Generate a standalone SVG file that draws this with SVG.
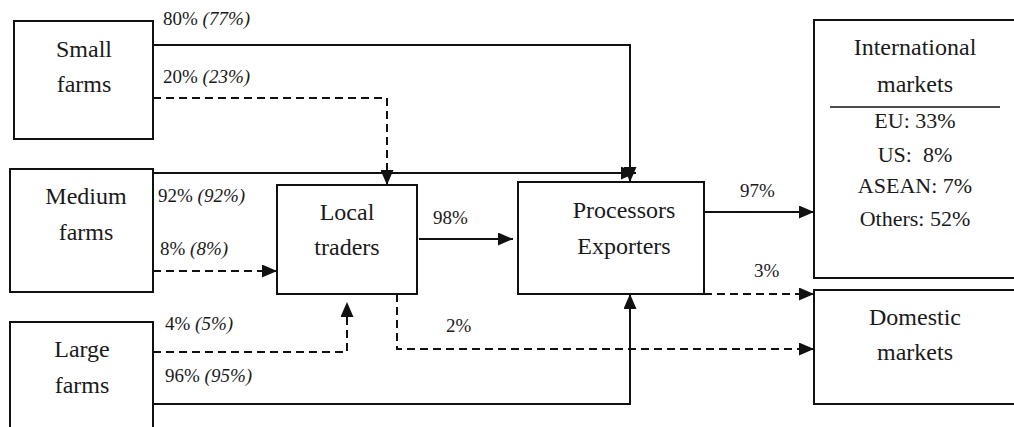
<svg xmlns="http://www.w3.org/2000/svg" width="1014" height="427" viewBox="0 0 1014 427">
<style>
.box{fill:#fff;stroke:#111;stroke-width:2}
text{font-family:"Liberation Serif","Tinos","Times New Roman","DejaVu Serif",serif;fill:#1a1a1a}
.lbl{font-size:24px;text-anchor:middle}
.sub{font-size:22px;text-anchor:middle}
.pct{font-size:19px}
.it{font-style:italic}
.solid{fill:none;stroke:#111;stroke-width:2;marker-end:url(#arr)}
.dash{fill:none;stroke:#111;stroke-width:2;stroke-dasharray:8 5;marker-end:url(#arr)}
</style>
<defs>
<marker id="arr" markerUnits="userSpaceOnUse" markerWidth="15" markerHeight="13" refX="15" refY="6.5" orient="auto">
<path d="M0,0 L15,6.5 L0,13 z" fill="#111"/>
</marker>
</defs>
<rect width="1014" height="427" fill="#fff"/>
<g id="connectors">
<path class="solid" d="M153,45 H630 V182"/>
<path class="solid" d="M153,173 H636"/>
<path class="dash" d="M153,98 H387 V185"/>
<path class="dash" d="M153,271 H277"/>
<path class="dash" d="M153,352 H347 V302"/>
<path class="solid" d="M153,404 H630 V294"/>
<path class="solid" d="M419,239 H513"/>
<path class="solid" d="M704,212 H814"/>
<path class="dash" d="M704,294 H814"/>
<path class="dash" d="M397,294 V349 H814"/>
</g>
<g id="edge-labels">
<text class="pct" x="163" y="25">80% <tspan class="it">(77%)</tspan></text>
<text class="pct" x="163" y="83">20% <tspan class="it">(23%)</tspan></text>
<text class="pct" x="158" y="202">92% <tspan class="it">(92%)</tspan></text>
<text class="pct" x="160" y="255">8% <tspan class="it">(8%)</tspan></text>
<text class="pct" x="165" y="330">4% <tspan class="it">(5%)</tspan></text>
<text class="pct" x="165" y="382">96% <tspan class="it">(95%)</tspan></text>
<text class="pct" x="433" y="224">98%</text>
<text class="pct" x="740" y="197">97%</text>
<text class="pct" x="754" y="277">3%</text>
<text class="pct" x="446" y="332">2%</text>
</g>
<g id="small-farms">
<rect class="box" x="14" y="21" width="139" height="118"/>
<text class="lbl" x="84" y="57">Small</text>
<text class="lbl" x="84" y="92">farms</text>
</g>
<g id="medium-farms">
<rect class="box" x="10" y="169" width="143" height="123"/>
<text class="lbl" x="86" y="204">Medium</text>
<text class="lbl" x="86" y="240">farms</text>
</g>
<g id="large-farms">
<rect class="box" x="10" y="322" width="143" height="120"/>
<text class="lbl" x="82" y="357">Large</text>
<text class="lbl" x="82" y="393">farms</text>
</g>
<g id="local-traders">
<rect class="box" x="277" y="185" width="140" height="109"/>
<text class="lbl" x="347" y="220">Local</text>
<text class="lbl" x="347" y="255">traders</text>
</g>
<g id="processors-exporters">
<rect class="box" x="518" y="182" width="186" height="112"/>
<text class="lbl" x="624" y="218">Processors</text>
<text class="lbl" x="624" y="254">Exporters</text>
</g>
<g id="international-markets">
<rect class="box" x="814" y="20" width="210" height="258"/>
<text class="lbl" x="915" y="55">International</text>
<text class="lbl" x="915" y="92">markets</text>
<line x1="830" y1="107" x2="1000" y2="107" stroke="#111" stroke-width="1.5"/>
<text class="sub" x="915" y="128">EU: 33%</text>
<text class="sub" x="915" y="162" xml:space="preserve">US:  8%</text>
<text class="sub" x="915" y="193">ASEAN: 7%</text>
<text class="sub" x="915" y="226">Others: 52%</text>
</g>
<g id="domestic-markets">
<rect class="box" x="814" y="290" width="210" height="114"/>
<text class="lbl" x="915" y="325">Domestic</text>
<text class="lbl" x="915" y="360">markets</text>
</g>
</svg>
